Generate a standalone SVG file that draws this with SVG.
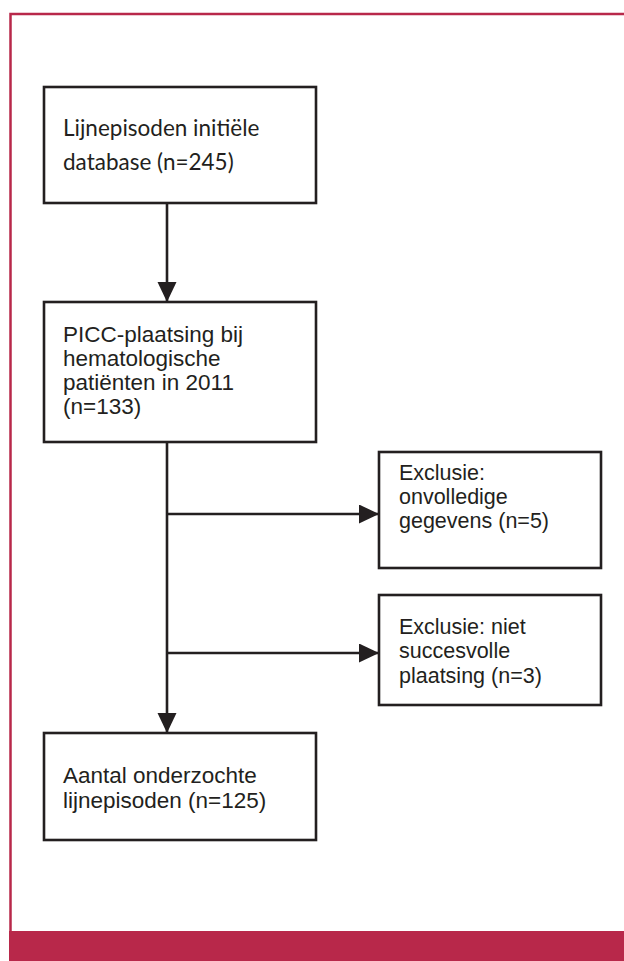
<svg xmlns="http://www.w3.org/2000/svg" width="624" height="961" viewBox="0 0 624 961">
<style>
.frame{fill:none;stroke:#b8284a;stroke-width:2.5}
.band{fill:#b8284a}
.box{fill:#fff;stroke:#231f20;stroke-width:2.6}
.t{font-family:"Liberation Sans",Arial,sans-serif;font-size:22.5px;fill:#231f20}
.ts{font-family:"Liberation Sans",Arial,sans-serif;font-size:21.5px;fill:#231f20}
.tc{font-family:Lato,"Open Sans",sans-serif;font-size:22.5px;fill:#231f20}
.ln{fill:none;stroke:#231f20;stroke-width:2.6}
</style>
<defs>
<marker id="ah" markerUnits="userSpaceOnUse" markerWidth="21" markerHeight="20" refX="20" refY="9.5" orient="auto">
<path d="M0,0 L20,9.5 L0,19 z" fill="#231f20"/>
</marker>
</defs>
<rect class="band" x="9" y="931" width="615" height="30"/>
<path class="frame" d="M10.5,932 V14 H624"/>
<g id="connectors">
<line class="ln" x1="167" y1="203" x2="167" y2="302" marker-end="url(#ah)"/>
<line class="ln" x1="167" y1="442" x2="167" y2="733" marker-end="url(#ah)"/>
<line class="ln" x1="167" y1="514" x2="379" y2="514" marker-end="url(#ah)"/>
<line class="ln" x1="167" y1="653" x2="379" y2="653" marker-end="url(#ah)"/>
</g>
<g id="n1">
<rect class="box" x="44" y="87" width="272" height="116"/>
<text class="tc" x="63" y="136">Lijnepisoden initiële</text>
<text class="tc" x="63" y="169.5">database (n=245)</text>
</g>
<g id="n2">
<rect class="box" x="44" y="302" width="272" height="140"/>
<text class="t" x="63" y="341.5">PICC-plaatsing bij</text>
<text class="t" x="63" y="365.5">hematologische</text>
<text class="t" x="63" y="389.5">patiënten in 2011</text>
<text class="t" x="63" y="413.5">(n=133)</text>
</g>
<g id="n3">
<rect class="box" x="379" y="452" width="222" height="116"/>
<text class="ts" x="399" y="480">Exclusie:</text>
<text class="ts" x="399" y="504">onvolledige</text>
<text class="ts" x="399" y="528">gegevens (n=5)</text>
</g>
<g id="n4">
<rect class="box" x="379" y="595" width="222" height="110"/>
<text class="ts" x="399" y="634">Exclusie: niet</text>
<text class="ts" x="399" y="658">succesvolle</text>
<text class="ts" x="399" y="683">plaatsing (n=3)</text>
</g>
<g id="n5">
<rect class="box" x="44" y="733" width="272" height="107"/>
<text class="t" x="63" y="783">Aantal onderzochte</text>
<text class="t" x="63" y="808">lijnepisoden (n=125)</text>
</g>
</svg>
